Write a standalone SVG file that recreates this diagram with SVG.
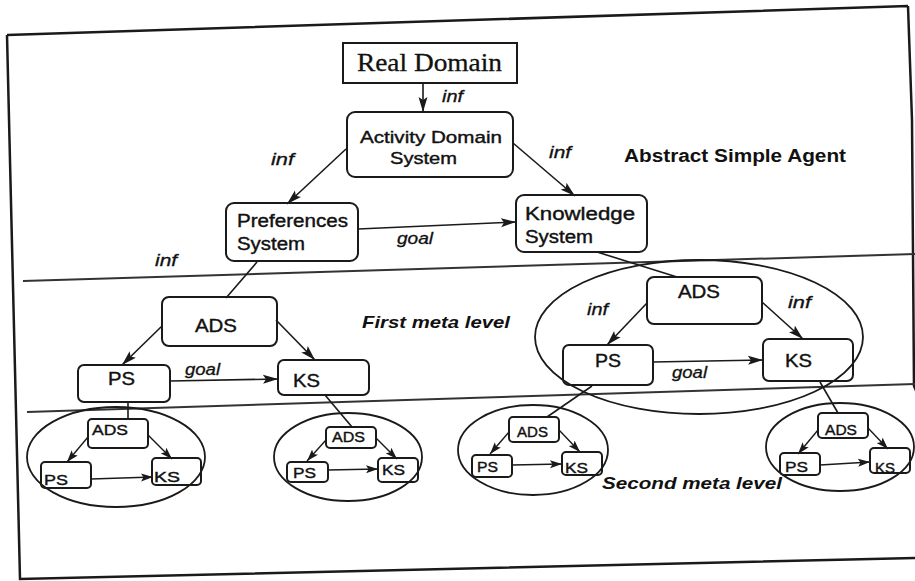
<svg xmlns="http://www.w3.org/2000/svg" width="915" height="581" viewBox="0 0 915 581">
<defs>
<marker id="ah" markerUnits="userSpaceOnUse" markerWidth="16" markerHeight="10" refX="15" refY="5" orient="auto">
<path d="M0,0.5 L15,5 L0,9.5 L3,5 z" fill="#1a1a1a"/>
</marker>
<marker id="ahs" markerUnits="userSpaceOnUse" markerWidth="13" markerHeight="9" refX="12" refY="4.5" orient="auto">
<path d="M0,0.5 L12,4.5 L0,8.5 L2.5,4.5 z" fill="#1a1a1a"/>
</marker>
<style>
.box{fill:none;stroke:#1a1a1a;stroke-width:2}
.ell{fill:none;stroke:#1a1a1a;stroke-width:1.8}
.frame{fill:none;stroke:#1a1a1a;stroke-width:2.5}
.sep{fill:none;stroke:#333;stroke-width:2}
.c{fill:none;stroke:#1a1a1a;stroke-width:1.6}
.ca{fill:none;stroke:#1a1a1a;stroke-width:1.6;marker-end:url(#ah)}
.cs{fill:none;stroke:#1a1a1a;stroke-width:1.4;marker-end:url(#ahs)}
.t{font-family:"Liberation Sans",Arial,sans-serif;font-size:18px;fill:#111;stroke:#111;stroke-width:0.4}
.t2{font-family:"Liberation Sans",Arial,sans-serif;font-size:17px;fill:#111;stroke:#111;stroke-width:0.4}
.ts{font-family:"Liberation Sans",Arial,sans-serif;font-size:15px;fill:#111;stroke:#111;stroke-width:0.4}
.lab{font-family:"Liberation Sans",Arial,sans-serif;font-size:16px;font-style:italic;fill:#111;stroke:#111;stroke-width:0.3}
.hd{font-family:"Liberation Sans",Arial,sans-serif;font-size:17px;font-style:italic;font-weight:bold;fill:#111}
.ab{font-family:"Liberation Sans",Arial,sans-serif;font-size:18px;font-weight:bold;fill:#111}
.rd{font-family:"Liberation Serif","Times New Roman",serif;font-size:25px;fill:#111;stroke:#111;stroke-width:0.3}
</style>
</defs>
<rect width="915" height="581" fill="#fff"/>

<g id="frame">
<path class="frame" d="M7,35 L908,6 M7,35 L20,579 L915,558 M908,6 L912,120 L914,386 L920,400"/>
<path class="sep" d="M23,281 L915,254"/>
<path class="sep" d="M27,412 L915,384"/>
</g>

<g id="connectors">
<path class="ca" d="M423,83 L423,112"/>
<path class="ca" d="M346,149 L287,204"/>
<path class="ca" d="M513,143 L575,196"/>
<path class="ca" d="M358,229 L516,222"/>
<path class="c" d="M257,262 L226,298"/>
<path class="ca" d="M162,326 L122,365"/>
<path class="ca" d="M276,320 L315,360"/>
<path class="ca" d="M170,381 L278,379"/>
<path class="c" d="M128,402 L128,419"/>
<path class="c" d="M325,395 L352,427"/>
<path class="c" d="M597,252 L677,277"/>
<path class="ca" d="M647,303 L607,345"/>
<path class="ca" d="M762,302 L803,339"/>
<path class="ca" d="M653,362 L763,360"/>
<path class="c" d="M592,386 L547,417"/>
<path class="c" d="M820,382 L838,413"/>
<path class="cs" d="M88,437 L67,462"/>
<path class="cs" d="M148,435 L172,459"/>
<path class="cs" d="M91,479 L153,477"/>
<path class="cs" d="M326,440 L307,461"/>
<path class="cs" d="M376,438 L397,459"/>
<path class="cs" d="M328,470 L378,469"/>
<path class="cs" d="M509,432 L490,454"/>
<path class="cs" d="M559,430 L580,452"/>
<path class="cs" d="M512,465 L562,464"/>
<path class="cs" d="M818,430 L798,454"/>
<path class="cs" d="M868,428 L888,449"/>
<path class="cs" d="M820,465 L870,462"/>
</g>

<g id="labels">
<text class="lab" x="442" y="102" textLength="21" lengthAdjust="spacingAndGlyphs">inf</text>
<text class="lab" x="271" y="165" textLength="23" lengthAdjust="spacingAndGlyphs">inf</text>
<text class="lab" x="549" y="158" textLength="22" lengthAdjust="spacingAndGlyphs">inf</text>
<text class="lab" x="397" y="244" textLength="36" lengthAdjust="spacingAndGlyphs">goal</text>
<text class="lab" x="155" y="266" textLength="22" lengthAdjust="spacingAndGlyphs">inf</text>
<text class="lab" x="185" y="375" textLength="35" lengthAdjust="spacingAndGlyphs">goal</text>
<text class="lab" x="587" y="315" textLength="21" lengthAdjust="spacingAndGlyphs">inf</text>
<text class="lab" x="788" y="308" textLength="23" lengthAdjust="spacingAndGlyphs">inf</text>
<text class="lab" x="672" y="378" textLength="35" lengthAdjust="spacingAndGlyphs">goal</text>
<text class="ab" x="624" y="162" textLength="222" lengthAdjust="spacingAndGlyphs">Abstract Simple Agent</text>
<text class="hd" x="362" y="328" textLength="148" lengthAdjust="spacingAndGlyphs">First meta level</text>
<text class="hd" x="602" y="489" textLength="180" lengthAdjust="spacingAndGlyphs">Second meta level</text>
</g>

<g id="real-domain">
<rect class="box" x="343" y="43" width="174" height="40"/>
<text class="rd" x="357" y="71" textLength="145" lengthAdjust="spacingAndGlyphs">Real Domain</text>
</g>
<g id="activity-domain-system">
<rect class="box" x="347" y="112" width="166" height="65" rx="8"/>
<text class="t2" x="360" y="143" textLength="142" lengthAdjust="spacingAndGlyphs">Activity Domain</text>
<text class="t2" x="390" y="164" textLength="67" lengthAdjust="spacingAndGlyphs">System</text>
</g>
<g id="preferences-system">
<rect class="box" x="226" y="203" width="132" height="58" rx="8"/>
<text class="t" x="237" y="227" textLength="111" lengthAdjust="spacingAndGlyphs">Preferences</text>
<text class="t" x="237" y="250" textLength="68" lengthAdjust="spacingAndGlyphs">System</text>
</g>
<g id="knowledge-system">
<rect class="box" x="516" y="195" width="131" height="57" rx="8"/>
<text class="t" x="525" y="220" textLength="110" lengthAdjust="spacingAndGlyphs">Knowledge</text>
<text class="t" x="525" y="243" textLength="68" lengthAdjust="spacingAndGlyphs">System</text>
</g>

<g id="m1-left-ads">
<rect class="box" x="162" y="297" width="115" height="49" rx="7"/>
<text class="t" x="195" y="332" textLength="42" lengthAdjust="spacingAndGlyphs">ADS</text>
</g>
<g id="m1-left-ps">
<rect class="box" x="78" y="365" width="92" height="37" rx="6"/>
<text class="t" x="108" y="385" textLength="27" lengthAdjust="spacingAndGlyphs">PS</text>
</g>
<g id="m1-left-ks">
<rect class="box" x="278" y="360" width="91" height="35" rx="6"/>
<text class="t" x="293" y="387" textLength="27" lengthAdjust="spacingAndGlyphs">KS</text>
</g>

<g id="m1-right">
<ellipse class="ell" cx="699" cy="337" rx="164" ry="77"/>
</g>
<g id="m1-right-ads">
<rect class="box" x="647" y="277" width="115" height="47" rx="7"/>
<text class="t" x="678" y="298" textLength="42" lengthAdjust="spacingAndGlyphs">ADS</text>
</g>
<g id="m1-right-ps">
<rect class="box" x="563" y="345" width="90" height="40" rx="6"/>
<text class="t" x="595" y="367" textLength="26" lengthAdjust="spacingAndGlyphs">PS</text>
</g>
<g id="m1-right-ks">
<rect class="box" x="763" y="339" width="90" height="42" rx="6"/>
<text class="t" x="785" y="367" textLength="27" lengthAdjust="spacingAndGlyphs">KS</text>
</g>

<g id="m2-e1">
<ellipse class="ell" cx="116" cy="457" rx="89" ry="50"/>
<rect class="box" x="88" y="419" width="60" height="29" rx="4"/>
<text class="ts" x="92" y="435" textLength="36" lengthAdjust="spacingAndGlyphs">ADS</text>
<rect class="box" x="41" y="462" width="50" height="26" rx="4"/>
<text class="ts" x="44" y="485" textLength="24" lengthAdjust="spacingAndGlyphs">PS</text>
<rect class="box" x="152" y="458" width="49" height="27" rx="4"/>
<text class="ts" x="154" y="482" textLength="26" lengthAdjust="spacingAndGlyphs">KS</text>
</g>
<g id="m2-e2">
<ellipse class="ell" cx="348" cy="457" rx="74" ry="44"/>
<rect class="box" x="326" y="427" width="50" height="21" rx="4"/>
<text class="ts" x="332" y="442" textLength="33" lengthAdjust="spacingAndGlyphs">ADS</text>
<rect class="box" x="287" y="462" width="41" height="20" rx="4"/>
<text class="ts" x="293" y="478" textLength="23" lengthAdjust="spacingAndGlyphs">PS</text>
<rect class="box" x="378" y="458" width="40" height="24" rx="4"/>
<text class="ts" x="382" y="475" textLength="23" lengthAdjust="spacingAndGlyphs">KS</text>
</g>
<g id="m2-e3">
<ellipse class="ell" cx="533" cy="450" rx="75" ry="45"/>
<rect class="box" x="509" y="417" width="50" height="25" rx="4"/>
<text class="ts" x="517" y="437" textLength="31" lengthAdjust="spacingAndGlyphs">ADS</text>
<rect class="box" x="472" y="455" width="40" height="22" rx="4"/>
<text class="ts" x="477" y="472" textLength="21" lengthAdjust="spacingAndGlyphs">PS</text>
<rect class="box" x="562" y="452" width="40" height="23" rx="4"/>
<text class="ts" x="565" y="473" textLength="23" lengthAdjust="spacingAndGlyphs">KS</text>
</g>
<g id="m2-e4">
<ellipse class="ell" cx="840" cy="447" rx="74" ry="44"/>
<rect class="box" x="818" y="413" width="50" height="25" rx="4"/>
<text class="ts" x="825" y="435" textLength="32" lengthAdjust="spacingAndGlyphs">ADS</text>
<rect class="box" x="780" y="453" width="40" height="22" rx="4"/>
<text class="ts" x="785" y="472" textLength="23" lengthAdjust="spacingAndGlyphs">PS</text>
<rect class="box" x="870" y="448" width="40" height="25" rx="4"/>
<text class="ts" x="875" y="473" textLength="20" lengthAdjust="spacingAndGlyphs">KS</text>
</g>
</svg>
